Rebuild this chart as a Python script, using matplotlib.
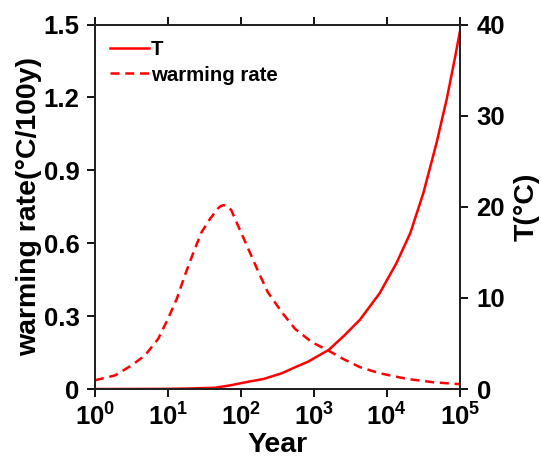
import numpy as np
import matplotlib
matplotlib.use("Agg")
import matplotlib.pyplot as plt

plt.rcParams['font.family'] = ['Liberation Sans', 'DejaVu Sans']
plt.rcParams['font.weight'] = 'bold'
plt.rcParams['mathtext.fontset'] = 'custom'
plt.rcParams['mathtext.rm'] = 'Liberation Sans:bold'
plt.rcParams['mathtext.bf'] = 'Liberation Sans:bold'
plt.rcParams['mathtext.default'] = 'bf'

# temperature (right axis)
year_T = [1, 10, 20, 44, 71, 126, 204, 363, 575, 830, 1600, 2630, 4270, 7940,
          13500, 20900, 31600, 47900, 66000, 85000, 100000]
T = [0, 0.02, 0.06, 0.14, 0.4, 0.8, 1.1, 1.73, 2.45, 3.0, 4.3, 5.9, 7.6, 10.5,
     13.8, 17.1, 21.5, 27.0, 31.8, 36.2, 39.2]

# warming rate (left axis)
year_r = [1, 1.88, 3.16, 4.84, 7.36, 10, 13.2, 17, 22.4, 28.8, 37.6, 49, 53, 58,
          66, 74, 91, 126, 174, 234, 363, 550, 933, 1585, 2510, 4270, 7940,
          18600, 42700, 100000]
rate = [0.036, 0.056, 0.097, 0.138, 0.207, 0.289, 0.371, 0.467, 0.563, 0.645,
        0.70, 0.745, 0.753, 0.757, 0.752, 0.735, 0.673, 0.577, 0.481, 0.398,
        0.316, 0.248, 0.193, 0.158, 0.124, 0.09, 0.065, 0.042, 0.028, 0.02]

left_ticks = [0, 0.3, 0.6, 0.9, 1.2, 1.5]
left_labels = ['0', '0.3', '0.6', '0.9', '1.2', '1.5']
right_ticks = [0, 10, 20, 30, 40]
decades = [0, 1, 2, 3, 4, 5]

fig = plt.figure(figsize=(5.41, 4.70), dpi=100)
ax = fig.add_axes([0.1756, 0.1723, 0.6744, 0.7755])
ax2 = ax.twinx()

red = '#ff0000'
l2, = ax.plot(year_r, rate, color=red, lw=1.8, ls=(0, (3.6, 2.3)), label='warming rate')
l1, = ax2.plot(year_T, T, color=red, lw=1.8, label='T')

ax.set_xscale('log')
ax.set_xlim(1, 1e5)
ax.set_ylim(0, 1.5)
ax2.set_ylim(0, 40)

ax.set_xticks([10.0 ** d for d in decades],
              labels=[r'$\mathbf{10^{%d}}$' % d for d in decades])
ax.set_yticks(left_ticks, labels=left_labels)
ax2.set_yticks(right_ticks)

ax.tick_params(axis='x', which='major', length=6, width=1.3, direction='out',
               top=True, labelsize=18.5, pad=4)
ax.tick_params(axis='x', which='minor', length=3.5, width=1.1, direction='out', top=True)
ax.tick_params(axis='y', length=6, width=1.3, direction='out', labelsize=18.5, pad=5)
ax2.tick_params(axis='y', length=6, width=1.3, direction='out', labelsize=18.5, pad=6)

for a in (ax, ax2):
    for s in a.spines.values():
        s.set_linewidth(1.4)
        s.set_color('#222222')

ax.set_xlabel('Year', fontsize=20.5, fontweight='bold')
ax.set_ylabel('warming rate(°C/100y)', fontsize=20.5, fontweight='bold')
ax2.set_ylabel('T(°C)', fontsize=20.5, fontweight='bold')
ax.xaxis.set_label_coords(0.5, -0.118)
ax.yaxis.set_label_coords(-0.145, 0.5)
ax2.yaxis.set_label_coords(1.148, 0.5)

ax2.legend([l1, l2], ['T', 'warming rate'], loc='upper left', frameon=False,
           handlelength=1.9, handletextpad=0.1, labelspacing=0.33,
           borderaxespad=0.35, prop={'weight': 'bold', 'size': 14.7})

fig.savefig('out.png', dpi=100)
